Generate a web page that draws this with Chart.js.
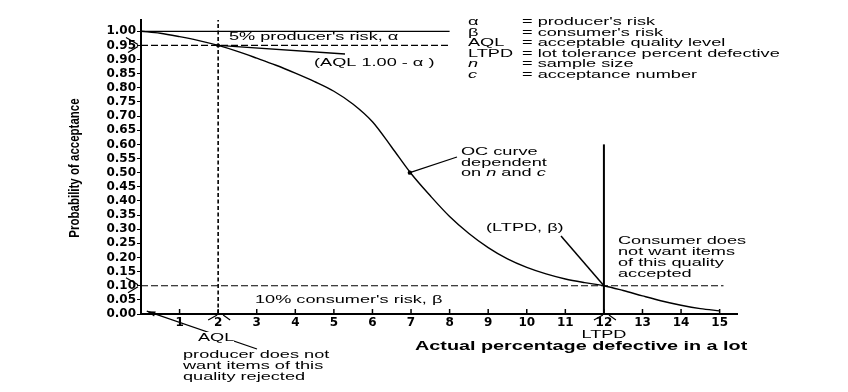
<!DOCTYPE html>
<html>
<head>
<meta charset="utf-8">
<script src="https://cdn.jsdelivr.net/npm/chart.js@4.4.1/dist/chart.umd.min.js"></script>
<style>
  body { margin: 0; background: #fff; }
  canvas { display: block; }
</style>
</head>
<body>
<canvas id="ocChart" width="848" height="392"></canvas>
<script>
// OC curve
var defectPct = [0, 0.5, 1, 1.5, 2, 2.5, 3, 3.5, 4, 4.5, 5, 5.5, 6, 6.5, 7, 7.5, 8, 8.5, 9, 9.5, 10, 10.5, 11, 11.5, 12, 12.5, 13, 13.5, 14, 14.5, 15];
var probAccept = [1.00, 0.993, 0.981, 0.967, 0.950, 0.929, 0.905, 0.880, 0.852, 0.822, 0.788, 0.742, 0.680, 0.590, 0.497, 0.418, 0.345, 0.285, 0.235, 0.195, 0.165, 0.142, 0.124, 0.111, 0.100, 0.083, 0.064, 0.046, 0.031, 0.019, 0.011];

var xTicks = [1, 2, 3, 4, 5, 6, 7, 8, 9, 10, 11, 12, 13, 14, 15];
var yTicks = [0, 0.05, 0.10, 0.15, 0.20, 0.25, 0.30, 0.35, 0.40, 0.45, 0.50, 0.55, 0.60, 0.65, 0.70, 0.75, 0.80, 0.85, 0.90, 0.95, 1.00];

var aql = 2;
var ltpd = 12;
var alphaRisk = 0.05;
var betaRisk = 0.10;

// how far the guide lines run
var alphaLineEnd = 8.0;
var betaLineEnd = 15.1;
var ltpdLineTop = 0.6;
var yTop = 1.04;
var xRight = 15.45;

var legendRows = [
    ['α', '= producer\'s risk', false],
    ['β', '= consumer\'s risk', false],
    ['AQL', '= acceptable quality level', false],
    ['LTPD', '= lot tolerance percent defective', false],
    ['n', '= sample size', true],
    ['c', '= acceptance number', true]
];

var SX = 1.65; // the source picture is stretched sideways
var FONT = '"Liberation Sans", Arial, sans-serif';

function say(ctx, str, x, y, size, weight, align, italic) {
    ctx.save();
    ctx.translate(x, y);
    ctx.scale(SX, 1);
    ctx.font = (italic ? 'italic ' : '') + (weight || 'normal') + ' ' + size + 'px ' + FONT;
    ctx.textAlign = align || 'left';
    ctx.textBaseline = 'middle';
    ctx.fillStyle = '#000';
    ctx.fillText(str, 0, 0);
    ctx.restore();
}

// text made of plain and italic pieces
function sayParts(ctx, parts, x, y, size) {
    var cx = x;
    parts.forEach(function (p) {
        ctx.font = (p[1] ? 'italic ' : '') + size + 'px ' + FONT;
        var w = ctx.measureText(p[0]).width * SX;
        say(ctx, p[0], cx, y, size, 'normal', 'left', p[1]);
        cx += w;
    });
}

function seg(ctx, x1, y1, x2, y2, w) {
    ctx.beginPath();
    ctx.lineWidth = w || 1;
    ctx.moveTo(x1, y1);
    ctx.lineTo(x2, y2);
    ctx.stroke();
}

function arrow(ctx, x1, y1, x2, y2) {
    seg(ctx, x1, y1, x2, y2, 1.3);
    var a = Math.atan2(y2 - y1, x2 - x1);
    ctx.beginPath();
    ctx.moveTo(x2, y2);
    ctx.lineTo(x2 - 9 * Math.cos(a - 0.3), y2 - 9 * Math.sin(a - 0.3));
    ctx.lineTo(x2 - 9 * Math.cos(a + 0.3), y2 - 9 * Math.sin(a + 0.3));
    ctx.closePath();
    ctx.fill();
}

var decorations = {
    id: 'decorations',
    afterDraw: function (chart) {
        var ctx = chart.ctx;
        var xs = chart.scales.x;
        var ys = chart.scales.y;
        var px = function (v) { return xs.getPixelForValue(v); };
        var py = function (v) { return ys.getPixelForValue(v); };
        var bottom = chart.chartArea.bottom;
        var left = chart.chartArea.left;

        ctx.save();
        ctx.strokeStyle = '#000';
        ctx.fillStyle = '#000';

        // inner tick marks on the x axis
        xTicks.forEach(function (v) {
            seg(ctx, px(v), bottom, px(v), bottom - 5, 1.5);
        });

        // little chevrons at AQL and LTPD
        [aql, ltpd].forEach(function (v) {
            var x = px(v);
            seg(ctx, x - 1, bottom + 1, x - 10, bottom + 6, 1.2);
            seg(ctx, x + 5, bottom + 1, x + 12, bottom + 6, 1.2);
        });
        // and at the two risk levels on the y axis
        [1 - alphaRisk, betaRisk].forEach(function (v) {
            var y = py(v);
            seg(ctx, left - 15, y - 8, left - 3, y - 1, 1.2);
            seg(ctx, left - 3, y + 1, left - 13, y + 7, 1.2);
        });

        // pointer from the AQL point
        seg(ctx, px(aql), py(1 - alphaRisk), 345, 54, 1.3);
        ctx.beginPath();
        ctx.arc(px(aql), py(1 - alphaRisk), 2, 0, Math.PI * 2);
        ctx.fill();

        // pointer to the OC curve
        seg(ctx, 457, 157, px(6.97), py(0.50), 1.3);
        ctx.beginPath();
        ctx.arc(px(6.97), py(0.50), 2.2, 0, Math.PI * 2);
        ctx.fill();

        // pointer to the LTPD point
        seg(ctx, 561, 236, px(ltpd), py(betaRisk), 1.5);

        // AQL arrow to the origin
        arrow(ctx, 257, 349, px(0.15), py(0.01));

        // texts
        say(ctx, '5% producer\'s risk, α', 229, 37, 11);
        say(ctx, '(AQL 1.00 - α )', 314, 63, 11);
        say(ctx, 'OC curve', 461, 152, 11);
        say(ctx, 'dependent', 461, 162.5, 11);
        sayParts(ctx, [['on ', false], ['n', true], [' and ', false], ['c', true]], 461, 173, 11);
        say(ctx, '(LTPD, β)', 486, 228, 11);
        say(ctx, 'Consumer does', 618, 241, 11);
        say(ctx, 'not want items', 618, 252, 11);
        say(ctx, 'of this quality', 618, 263, 11);
        say(ctx, 'accepted', 618, 274, 11);
        say(ctx, '10% consumer\'s risk, β', 255, 300, 11);

        legendRows.forEach(function (r, i) {
            var y = 22 + i * 10.5;
            say(ctx, r[0], 468, y, 11, 'normal', 'left', r[2]);
            say(ctx, r[1], 522, y, 11);
        });

        ctx.fillStyle = '#fff';
        ctx.fillRect(198, 332, 36, 11);
        ctx.fillStyle = '#000';
        say(ctx, 'AQL', 198, 338, 11);
        say(ctx, 'producer does not', 183, 355, 11);
        say(ctx, 'want items of this', 183, 366, 11);
        say(ctx, 'quality rejected', 183, 377, 11);

        say(ctx, 'LTPD', px(ltpd), 335, 11, 'normal', 'center');
        say(ctx, 'Actual percentage defective in a lot', 415, 347, 12, 'bold');

        // y axis title, narrow and rotated
        ctx.save();
        ctx.translate(75, 168);
        ctx.rotate(-Math.PI / 2);
        ctx.scale(1, 1.35);
        ctx.font = 'bold 11.5px "Liberation Sans Narrow", "Liberation Sans", sans-serif';
        ctx.textAlign = 'center';
        ctx.textBaseline = 'middle';
        ctx.fillText('Probability of acceptance', 0, 0);
        ctx.restore();

        ctx.restore();
    }
};

function line(points, width, dash) {
    return {
        data: points,
        borderColor: '#000',
        borderWidth: width,
        borderDash: dash || [],
        pointRadius: 0,
        fill: false
    };
}

var ctx = document.getElementById('ocChart').getContext('2d');

var ocCurve = line(defectPct.map(function (x, i) { return { x: x, y: probAccept[i] }; }), 1.4);
ocCurve.cubicInterpolationMode = 'monotone';

var myChart = new Chart(ctx, {
    type: 'line',
    data: {
        datasets: [
            ocCurve,
            line([{ x: 0, y: 1 }, { x: alphaLineEnd, y: 1 }], 1.3),
            line([{ x: 0, y: 1 - alphaRisk }, { x: alphaLineEnd, y: 1 - alphaRisk }], 1.2, [7, 3]),
            line([{ x: 0, y: betaRisk }, { x: betaLineEnd, y: betaRisk }], 1.2, [7, 3]),
            line([{ x: aql, y: 0 }, { x: aql, y: yTop }], 1.6, [4, 2.5]),
            line([{ x: ltpd, y: 0 }, { x: ltpd, y: ltpdLineTop }], 2)
        ]
    },
    options: {
        responsive: false,
        animation: false,
        layout: {
            padding: { left: 81, right: 111, top: 20, bottom: 0 }
        },
        plugins: {
            legend: { display: false },
            tooltip: { enabled: false }
        },
        scales: {
            x: {
                type: 'linear',
                min: 0,
                max: xRight,
                afterBuildTicks: function (axis) {
                    axis.ticks = xTicks.map(function (v) { return { value: v }; });
                },
                afterFit: function (axis) { axis.height = 78; },
                ticks: {
                    color: '#000',
                    padding: 2,
                    maxRotation: 0,
                    autoSkip: false,
                    font: { size: 12, weight: 'bold', family: 'DejaVu Sans' }
                },
                grid: { drawOnChartArea: false, drawTicks: false },
                border: { color: '#000', width: 2 }
            },
            y: {
                min: 0,
                max: yTop,
                afterBuildTicks: function (axis) {
                    axis.ticks = yTicks.map(function (v) { return { value: v }; });
                },
                afterFit: function (axis) { axis.width = 60; },
                ticks: {
                    color: '#000',
                    padding: 1,
                    autoSkip: false,
                    callback: function (v) { return v.toFixed(2); },
                    font: { size: 12, weight: 'bold', family: 'DejaVu Sans' }
                },
                grid: { drawOnChartArea: false, tickLength: 4, color: '#000', tickWidth: 1 },
                border: { color: '#000', width: 2 }
            }
        }
    },
    plugins: [decorations]
});
</script>
</body>
</html>
